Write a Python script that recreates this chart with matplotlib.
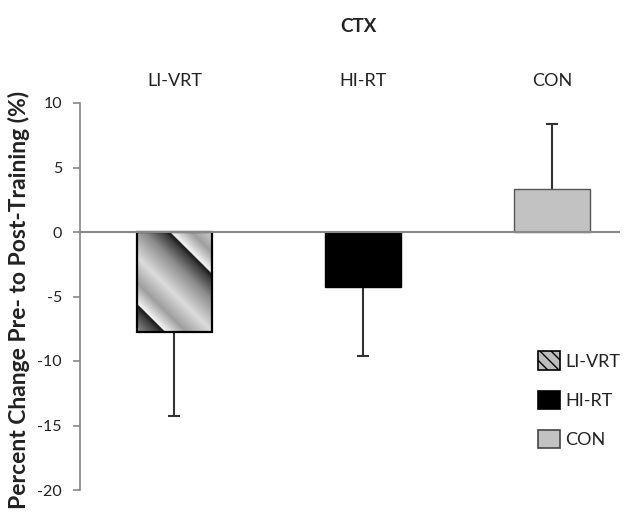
import numpy as np
import matplotlib
matplotlib.use('Agg')
import matplotlib.pyplot as plt
from matplotlib.patches import Patch

plt.rcParams['font.family'] = ['Lato', 'DejaVu Sans']
plt.rcParams['axes.unicode_minus'] = False

groups = ['LI-VRT', 'HI-RT', 'CON']
means = [-7.75, -4.25, 3.3]
errs = [6.55, 5.35, 5.1]
yticks = [-20, -15, -10, -5, 0, 5, 10]

txt = '#222222'
fig = plt.figure(figsize=(6.31, 5.14), dpi=100)
ax = fig.add_axes([80 / 631, 1 - 490 / 514, 540 / 631, 387 / 514])

x = np.arange(len(groups))
bars = ax.bar(x, means, width=0.4, color=['none', 'black', '#c2c2c2'],
              edgecolor=['black', 'black', '#555555'], linewidth=[1.6, 1.0, 1.0], zorder=3)

# one-sided error bars, pointing away from zero
ends = [m - e if m < 0 else m + e for m, e in zip(means, errs)]
ax.vlines(x, means, ends, color='#333333', lw=1.5, zorder=2)
ax.scatter(x, ends, marker='_', s=70, color='#333333', linewidths=1.5, zorder=2)

ax.set_xlim(-0.5, 2.36)
ax.set_ylim(-20, 10)
ax.set_yticks(yticks)
ax.axhline(0, color='#888888', lw=1.5, zorder=4)

for s in ['top', 'right', 'bottom']:
    ax.spines[s].set_visible(False)
ax.spines['left'].set_color('#888888')
ax.spines['left'].set_linewidth(1.2)
ax.tick_params(axis='y', direction='out', length=5, width=1.2, color='#888888',
               labelsize=11.5, labelcolor=txt, pad=8)

ax.xaxis.tick_top()
ax.set_xticks(x)
ax.set_xticklabels(groups, fontsize=13, color=txt)
ax.tick_params(axis='x', length=0, pad=10)

ax.set_ylabel('Percent Change Pre- to Post-Training (%)', fontsize=16.5,
              fontweight='bold', color=txt)
ax.yaxis.set_label_coords(-0.092, 0.49)
fig.text(358 / 631, 1 - 27 / 514, 'CTX', ha='center', va='center',
         fontsize=13.5, fontweight='bold', color=txt)

# metallic diagonal stripes inside the LI-VRT bar
fig.canvas.draw()
b = bars[0]
x0, x1 = b.get_x(), b.get_x() + b.get_width()
y0, y1 = sorted([b.get_y(), b.get_y() + b.get_height()])
gx, gy = np.meshgrid(np.linspace(x0, x1, 300), np.linspace(y1, y0, 300))
pts = ax.transData.transform(np.column_stack([gx.ravel(), gy.ravel()]))
ssum = (pts[:, 0] + pts[:, 1]).reshape(gx.shape)
tl = ax.transData.transform((x0, y1))
s = ((ssum - (tl[0] + tl[1] + 33)) / 105) % 1.0
v = np.interp(s, [0, 0.04, 0.2, 0.45, 0.75, 0.93, 1.0],
              [0.97, 0.9, 0.62, 0.86, 0.55, 0.25, 0.08])
im = ax.imshow(v, cmap='gray', vmin=0, vmax=1, extent=[x0, x1, y0, y1],
               aspect='auto', interpolation='bilinear', zorder=2.5)
im.set_clip_path(b)
ax.set_xlim(-0.5, 2.36)
ax.set_ylim(-20, 10)

handles = [Patch(facecolor='#bdbdbd', edgecolor='black', hatch='\\\\\\', lw=1.2),
           Patch(facecolor='black', edgecolor='black', lw=1.2),
           Patch(facecolor='#c2c2c2', edgecolor='#444444', lw=1.2)]
leg = ax.legend(handles, groups, loc='upper left', bbox_to_anchor=(0.818, 0.40),
                frameon=False, fontsize=13, handlelength=1.2, handleheight=1.2,
                labelspacing=1.15, handletextpad=0.3)
for t in leg.get_texts():
    t.set_color(txt)

fig.savefig('out.png', dpi=100)
